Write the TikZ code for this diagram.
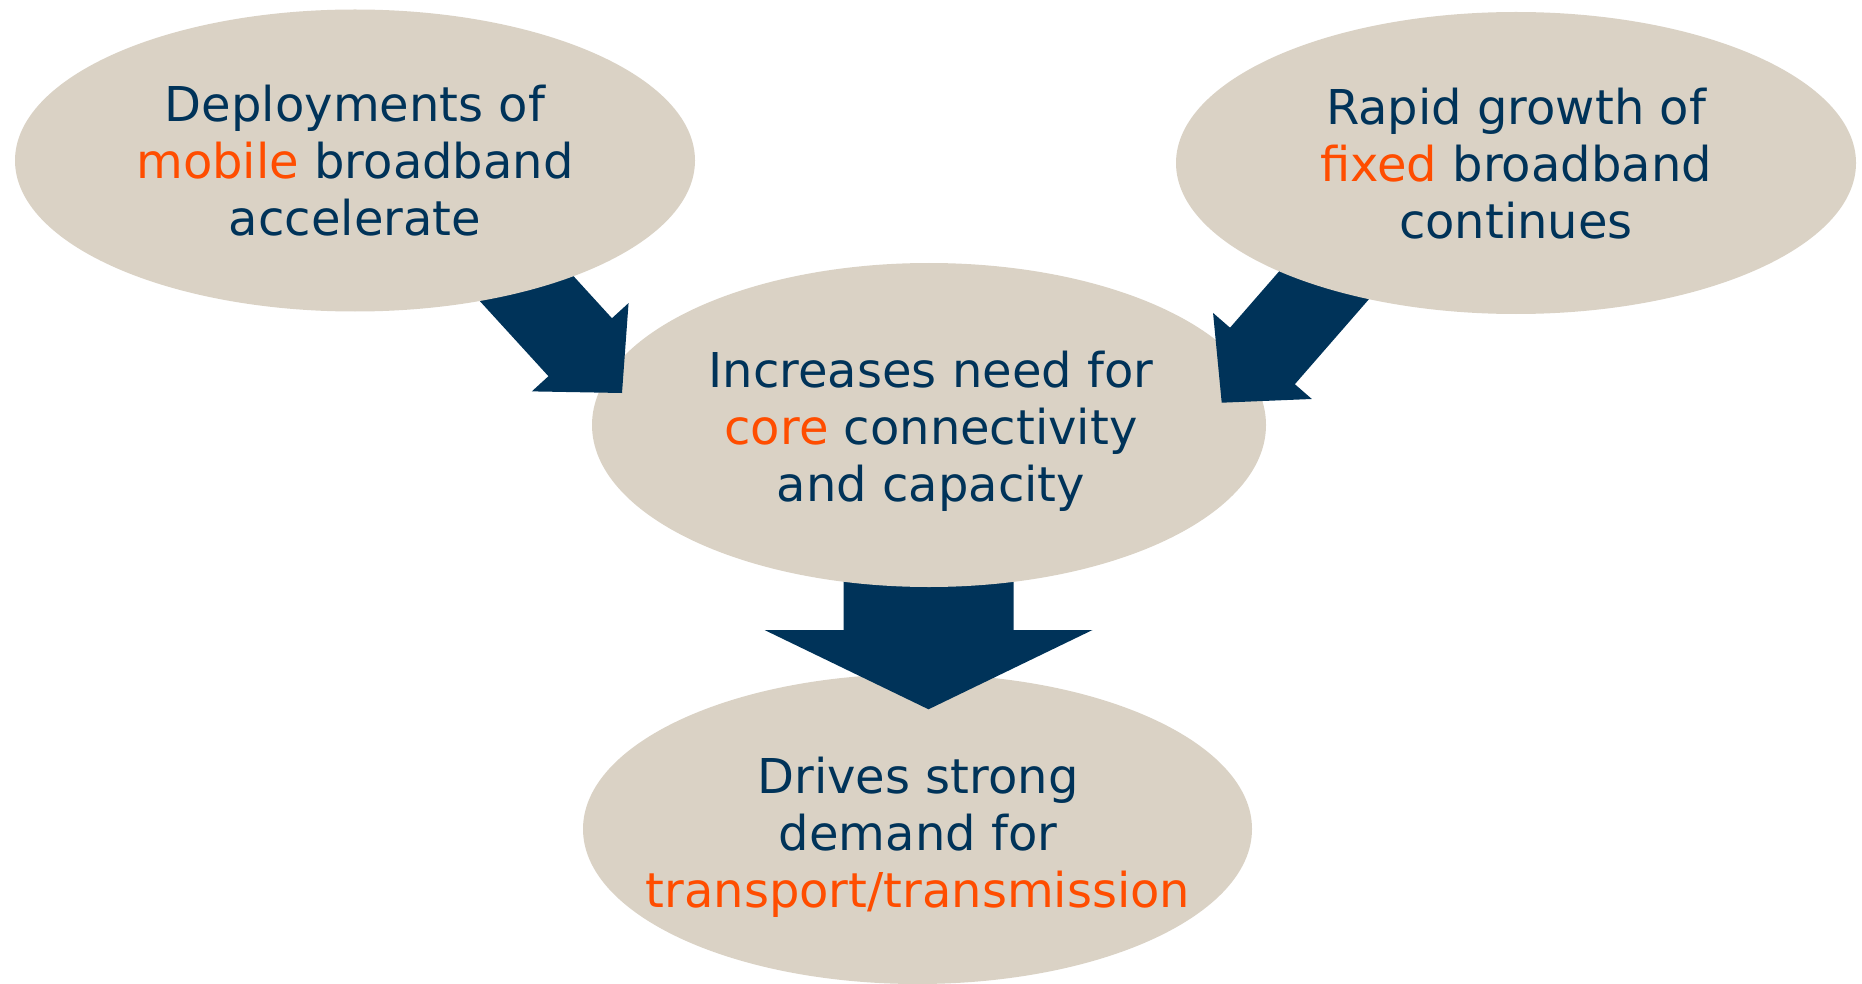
\documentclass[tikz,border=0pt]{standalone}
\usepackage{fontspec}
\setmainfont{DejaVu Sans}
\usetikzlibrary{shapes.geometric,calc}
\definecolor{beige}{HTML}{DAD2C5}
\definecolor{navy}{HTML}{003359}
\definecolor{hot}{HTML}{FF4D00}
\tikzset{
  bubble/.style={ellipse, fill=beige, inner sep=0pt, outer sep=0pt},
  bubbletext/.style={text=navy, align=center, inner sep=0pt,
    font=\fontsize{48pt}{57pt}\selectfont},
  blockarrow/.style={fill=navy},
}
% #1 name, #2 start, #3 tip, #4 half shaft width, #5 half head width, #6 head length
\newcommand{\blockarr}[6]{%
  \coordinate (#1c) at ($(#3)!#6!(#2)$);
  \fill[blockarrow] ($(#2)!#4!90:(#3)$) -- ($(#1c)!#4!90:(#3)$) -- ($(#1c)!#5!90:(#3)$)
    -- (#3) -- ($(#1c)!#5!-90:(#3)$) -- ($(#1c)!#4!-90:(#3)$) -- ($(#2)!#4!-90:(#3)$) -- cycle;
}
\begin{document}
\begin{tikzpicture}[x=1pt,y=-1pt]
\useasboundingbox (0,0) rectangle (1862,984);
% bottom bubble
\node[bubble, minimum width=669pt, minimum height=310pt] (drv) at (917.5,829) {};
\node[bubbletext] (drvt) at (918,837.7) {Drives strong\\demand for\\\textcolor{hot}{transport/transmission}};
% down arrow
\coordinate (ds) at (928.5,500);
\coordinate (dt) at (928.5,709.3);
\blockarr{da}{ds}{dt}{85pt}{164pt}{79.3pt}
% middle bubble
\node[bubble, minimum width=674pt, minimum height=324pt] (core) at (929,425) {};
\node[bubbletext] (coret) at (931,431) {Increases need for\\\textcolor{hot}{core} connectivity\\and capacity};
% side arrows
\coordinate (ls) at (479.1,236.5);
\coordinate (lt) at (622,393);
\blockarr{la}{ls}{lt}{43pt}{65.5pt}{62pt}
\coordinate (rs) at (1361.3,242.5);
\coordinate (rt) at (1221.7,402.7);
\blockarr{ra}{rs}{rt}{43pt}{65.5pt}{62pt}
% top bubbles
\node[bubble, minimum width=680pt, minimum height=302pt] (mob) at (355,160.5) {};
\node[bubbletext] (mobt) at (355,160.6) {Deployments of\\\textcolor{hot}{mobile} broadband\\accelerate};
\node[bubble, minimum width=680pt, minimum height=302pt] (fix) at (1516,163) {};
\node[bubbletext] (fixt) at (1516,163.7) {Rapid growth of\\\textcolor{hot}{fixed} broadband\\continues};
\end{tikzpicture}
\end{document}
